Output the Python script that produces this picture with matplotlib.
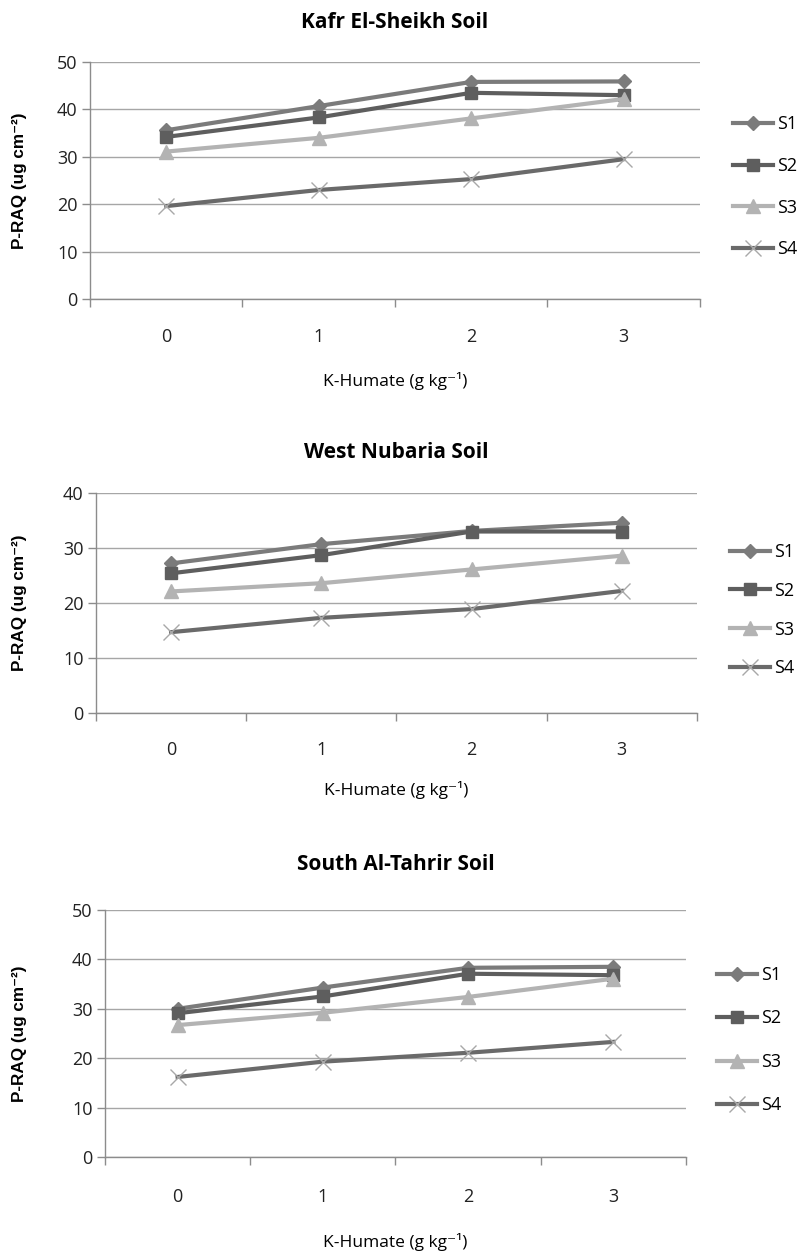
#!/usr/bin/env python3
"""P-RAQ vs K-Humate rate for three soils (S1-S4), stacked panels."""

import matplotlib
matplotlib.use('Agg')
import matplotlib.pyplot as plt

W, H = 803, 1256

KHUMATE = [0, 1, 2, 3]
SERIES = ["S1", "S2", "S3", "S4"]

# Kafr El-Sheikh
KAFR_S1 = [35.6, 40.7, 45.8, 45.9]
KAFR_S2 = [34.2, 38.3, 43.5, 43.0]
KAFR_S3 = [31.1, 34.0, 38.1, 42.2]
KAFR_S4 = [19.6, 23.0, 25.3, 29.5]

# West Nubaria
NUB_S1 = [27.2, 30.7, 33.1, 34.6]
NUB_S2 = [25.4, 28.7, 33.0, 33.0]
NUB_S3 = [22.1, 23.6, 26.1, 28.6]
NUB_S4 = [14.7, 17.3, 18.9, 22.2]

# South Al-Tahrir
TAH_S1 = [30.0, 34.3, 38.3, 38.5]
TAH_S2 = [29.1, 32.5, 37.1, 36.8]
TAH_S3 = [26.7, 29.2, 32.4, 36.1]
TAH_S4 = [16.2, 19.3, 21.1, 23.3]

STYLES = {
    "S1": dict(color="#7b7b7b", marker="D", ms=7.5, mec="#7b7b7b", mew=1),
    "S2": dict(color="#5e5e5e", marker="s", ms=9, mec="#5e5e5e", mew=1),
    "S3": dict(color="#b3b3b3", marker="^", ms=10, mec="#b3b3b3", mew=1),
    "S4": dict(color="#6a6a6a", marker="x", ms=11, mec="#a8a8a8", mew=1),
}
GRID = "#a6a6a6"
AXIS = "#8c8c8c"
FONT = ["Open Sans", "DejaVu Sans"]
BOLD_FONT = ["Liberation Sans", "DejaVu Sans"]


def panel(fig, box, title, data, ymax, legend_y, legend_x, spacing,
          title_y, tick_y, xlab_y):
    l, t, r, b = box
    ax = fig.add_axes([l / W, 1 - b / H, (r - l) / W, (b - t) / H])
    for name, vals in zip(SERIES, data):
        ax.plot(KHUMATE, vals, lw=3, label=name, **STYLES[name])

    ax.set_xlim(-0.5, 3.5)
    ax.set_ylim(0, ymax)
    ax.set_yticks(range(0, ymax + 1, 10))
    ax.yaxis.grid(True, color=GRID, lw=1)
    ax.set_axisbelow(True)
    ax.set_xticks(KHUMATE)
    ax.set_xticks([-0.5, 0.5, 1.5, 2.5, 3.5], minor=True)
    ax.tick_params(axis='x', which='major', length=0,
                   pad=((tick_y - b) - 7) * 0.72, labelsize=13)
    ax.tick_params(axis='x', which='minor', length=6, color=AXIS, width=1)
    ax.tick_params(axis='y', length=6, color=AXIS, width=1, labelsize=13,
                   pad=3)
    for lab in ax.get_xticklabels() + ax.get_yticklabels():
        lab.set_family(FONT)
        lab.set_color("#222222")
    for s in ("top", "right"):
        ax.spines[s].set_visible(False)
    for s in ("left", "bottom"):
        ax.spines[s].set_color(AXIS)
        ax.spines[s].set_linewidth(1)

    fig.text((l + r) / 2 / W, 1 - title_y / H, title, ha='center', va='center',
             fontsize=15, fontweight='bold', family=FONT)
    fig.text((l + r) / 2 / W, 1 - xlab_y / H, "K-Humate (g kg\u207b\u00b9)",
             ha='center', va='center', fontsize=12.5, family=FONT)
    fig.text(20 / W, 1 - (t + b) / 2 / H, "P-RAQ (ug cm\u207b\u00b2)", rotation=90,
             ha='center', va='center', fontsize=12.3, fontweight='bold',
             family=BOLD_FONT)

    fig.legend(*ax.get_legend_handles_labels(), loc='upper left',
               bbox_to_anchor=(legend_x / W, 1 - legend_y / H),
               frameon=False, handlelength=2.2,
               handletextpad=0.25, labelspacing=spacing, borderpad=0,
               borderaxespad=0, prop={'family': FONT, 'size': 13})
    return ax


fig = plt.figure(figsize=(W / 100, H / 100), dpi=100, facecolor="white")

panel(fig, (90, 62, 700, 299), "Kafr El-Sheikh Soil",
      [KAFR_S1, KAFR_S2, KAFR_S3, KAFR_S4], 50,
      legend_y=115, legend_x=733, spacing=1.32,
      title_y=22, tick_y=335, xlab_y=381)
panel(fig, (96, 493, 697, 713), "West Nubaria Soil",
      [NUB_S1, NUB_S2, NUB_S3, NUB_S4], 40,
      legend_y=543, legend_x=730, spacing=1.15,
      title_y=453, tick_y=748, xlab_y=790)
panel(fig, (105, 910, 686, 1157), "South Al-Tahrir Soil",
      [TAH_S1, TAH_S2, TAH_S3, TAH_S4], 50,
      legend_y=966, legend_x=717, spacing=1.41,
      title_y=865, tick_y=1195, xlab_y=1242)

fig.savefig("out.png", dpi=100, facecolor="white")
